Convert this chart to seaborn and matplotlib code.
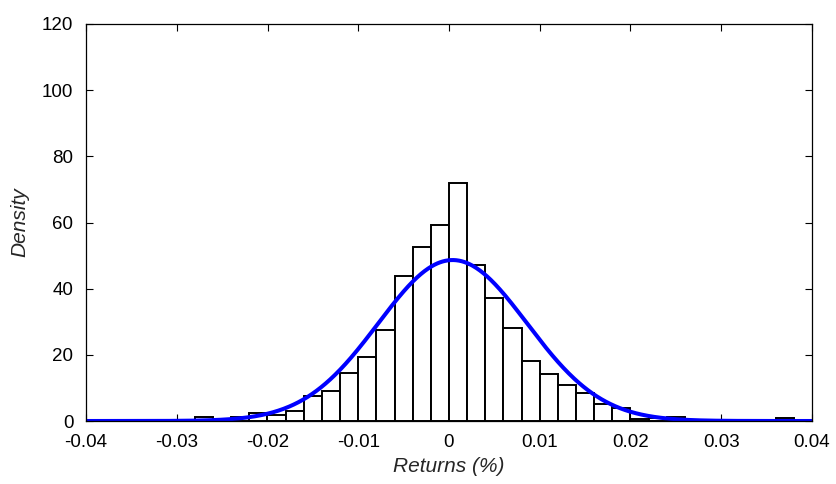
import numpy as np
import pandas as pd
import matplotlib
matplotlib.use("Agg")
import matplotlib.pyplot as plt
import seaborn as sns

# ---- data ----
bin_width = 0.002
bin_range = (-0.040, 0.040)
bin_left_edges = [round(-0.040 + i * bin_width, 3) for i in range(40)]
densities = [
    0.0, 0.0, 0.0, 0.2, 0.2, 0.2, 1.1, 0.6, 1.3, 2.5,
    1.9, 2.9, 7.6, 9.0, 14.6, 19.3, 27.4, 43.9, 52.7, 59.2,
    71.8, 47.2, 37.3, 28.0, 18.2, 14.2, 10.9, 8.4, 5.0, 4.0,
    0.5, 0.8, 1.3, 0.3, 0.2, 0.2, 0.2, 0.4, 1.0, 0.3,
]
# fitted normal distribution parameters
fit_mu = 0.0004
fit_sigma = 0.0082

x_ticks = [-0.04, -0.03, -0.02, -0.01, 0, 0.01, 0.02, 0.03, 0.04]
x_tick_labels = ["-0.04", "-0.03", "-0.02", "-0.01", "0", "0.01", "0.02", "0.03", "0.04"]
y_ticks = [0, 20, 40, 60, 80, 100, 120]

# ---- build tables ----
centers = np.array(bin_left_edges) + bin_width / 2
hist_df = pd.DataFrame({"ret": centers, "dens": densities})

xs = np.linspace(-0.04, 0.04, 801)
pdf = np.exp(-0.5 * ((xs - fit_mu) / fit_sigma) ** 2) / (fit_sigma * np.sqrt(2 * np.pi))
fit_df = pd.DataFrame({"ret": xs, "pdf": pdf})

# ---- plot ----
sns.set_style("white")
plt.rcParams["font.family"] = ["Liberation Sans", "DejaVu Sans"]

fig = plt.figure(figsize=(8.37, 4.84), dpi=100)
ax = fig.add_axes([86 / 837, 1 - 421 / 484, (812 - 86) / 837, (421 - 24) / 484])

sns.histplot(data=hist_df, x="ret", weights="dens", binwidth=bin_width,
             binrange=bin_range, stat="count",
             color="white", edgecolor="black", linewidth=1.4, alpha=1.0, ax=ax)
sns.lineplot(data=fit_df, x="ret", y="pdf", color="#0000ff", linewidth=2.9, ax=ax)

ax.set_xlim(-0.04, 0.04)
ax.set_ylim(0, 120)
ax.set_xticks(x_ticks)
ax.set_xticklabels(x_tick_labels)
ax.set_yticks(y_ticks)
ax.tick_params(direction="in", length=5, width=0.8, labelsize=13.5,
               top=True, right=True, bottom=True, left=True, colors="black")
ax.tick_params(axis="x", pad=9.5)
ax.tick_params(axis="y", pad=9)
for s in ax.spines.values():
    s.set_visible(True)
    s.set_color("black")
    s.set_linewidth(0.9)

ax.set_xlabel("Returns (%)", fontsize=15, fontstyle="italic", labelpad=4)
ax.set_ylabel("Density", fontsize=15, fontstyle="italic", labelpad=9)

fig.savefig("out.png", dpi=100)
